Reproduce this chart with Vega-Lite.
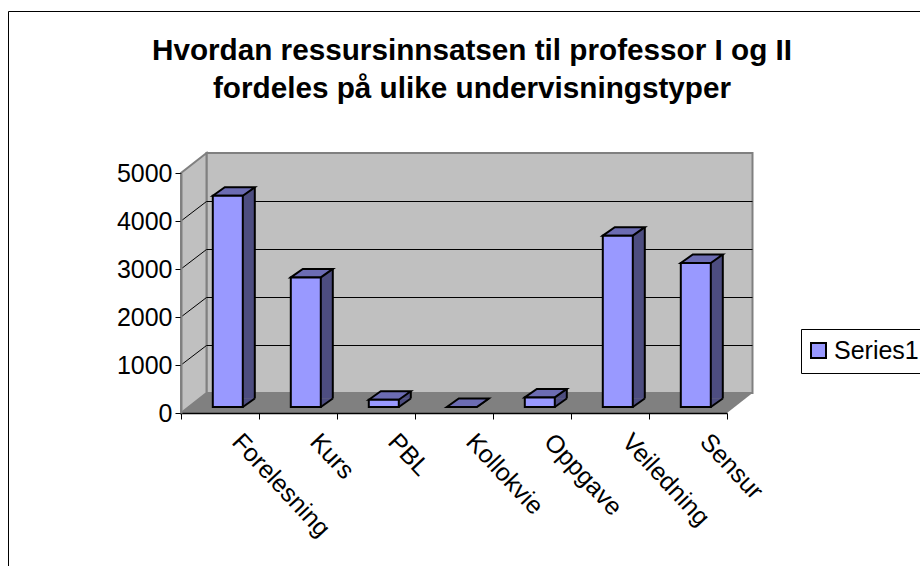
{
"$schema":"https://vega.github.io/schema/vega-lite/v6.json",
"width":912,"height":555,
"autosize":{"type":"none"},
"padding":{"left":8,"top":11,"right":0,"bottom":0},
"background":"white",
"view":{"stroke":"black","strokeWidth":1,"fill":"white"},
"title":{"text":["Hvordan ressursinnsatsen til professor I og II","fordeles på ulike undervisningstyper"],"anchor":"middle","frame":"group","dx":8,"offset":-94,"font":"Liberation Sans","fontWeight":"bold","fontSize":29.7,"lineHeight":38,"color":"black"},
"data":{"values":[
{"type":"Forelesning","value":4400},
{"type":"Kurs","value":2700},
{"type":"PBL","value":150},
{"type":"Kollokvie","value":0},
{"type":"Oppgave","value":200},
{"type":"Veiledning","value":3570},
{"type":"Sensur","value":3000}
]},
"encoding":{
"x":{"field":"type","type":"nominal","sort":null,"title":null,
"scale":{"domain":["Forelesning","Kurs","PBL","Kollokvie","Oppgave","Veiledning","Sensur"],"range":[173,719],"paddingInner":0,"paddingOuter":0},
"axis":{"orient":"bottom","offset":-153,"tickBand":"extent","labelAngle":47,"labelAlign":"left","labelBaseline":"middle","labelOffset":16,"labelPadding":18,"labelFontSize":25,"labelFont":"Liberation Sans","labelColor":"black","labelBound":false,"labelOverlap":false,"labelFlush":false,"tickSize":6,"tickColor":"black","domainColor":"black","domainWidth":1.5,"tickWidth":1,"grid":false,"zindex":1}},
"y":{"field":"value","type":"quantitative","title":null,
"scale":{"domain":[0,5000],"range":[402,162],"nice":false},
"axis":{"orient":"left","offset":-173,"values":[0,1000,2000,3000,4000,5000],"format":"d","labelFontSize":25,"labelFont":"Liberation Sans","labelColor":"black","labelPadding":3,"tickSize":6,"tickColor":"black","tickWidth":1,"domainColor":"#808080","domainWidth":2,"grid":false,"labelBound":false,"labelFlush":false,"zindex":1}}
},
"layer":[
{"data":{"values":[{"anchor":"Forelesning","base":0}]},"mark":{"type":"point","size":4,"opacity":1,"filled":true,"fill":"#c0c0c0","stroke":"#808080","strokeWidth":2,"shape":"M-13.5 -20 L532.5 -20 L532.5 -260 L-13.5 -260 Z"},"encoding":{"x":{"field":"anchor","type":"nominal"},"y":{"field":"base","type":"quantitative"}}},
{"data":{"values":[{"anchor":"Forelesning","base":0}]},"mark":{"type":"point","size":4,"opacity":1,"filled":true,"fill":"#c0c0c0","stroke":"#808080","strokeWidth":2,"shape":"M-39 0 L-13.5 -20 L-13.5 -260 L-39 -240 Z"},"encoding":{"x":{"field":"anchor","type":"nominal"},"y":{"field":"base","type":"quantitative"}}},
{"data":{"values":[{"anchor":"Forelesning","base":0}]},"mark":{"type":"point","size":4,"opacity":1,"filled":true,"fill":"#808080","strokeWidth":0,"shape":"M-39 0 L507 0 L532.5 -20 L-13.5 -20 Z"},"encoding":{"x":{"field":"anchor","type":"nominal"},"y":{"field":"base","type":"quantitative"}}},
{"data":{"values":[{"anchor":"Forelesning","grid":1000},{"anchor":"Forelesning","grid":2000},{"anchor":"Forelesning","grid":3000},{"anchor":"Forelesning","grid":4000}]},"mark":{"type":"point","size":4,"opacity":1,"filled":false,"stroke":"black","strokeWidth":1,"shape":"M-39 0 L-13.5 -19.5 L532.5 -19.5"},"encoding":{"x":{"field":"anchor","type":"nominal"},"y":{"field":"grid","type":"quantitative"}}},
{"mark":{"type":"bar","width":30,"xOffset":19.8,"yOffset":-14.5,"y2Offset":-14.5,"fill":"#4d4d80"},"encoding":{"y":{"field":"value","type":"quantitative"},"y2":{"datum":0}}},
{"mark":{"type":"point","size":4,"opacity":1,"filled":true,"fill":"#4d4d80","strokeWidth":0,"shape":"M22.8 -6 L34.8 -14.5 L22.8 -14.5 Z"},"encoding":{"y":{"datum":0}}},
{"mark":{"type":"rule","xOffset":34.8,"yOffset":-14.5,"y2Offset":-14.5,"stroke":"black","strokeWidth":2},"encoding":{"y":{"field":"value","type":"quantitative"},"y2":{"datum":0}}},
{"mark":{"type":"point","size":4,"opacity":1,"filled":false,"stroke":"black","strokeWidth":2,"shape":"M22.8 -6 L34.8 -14.5"},"encoding":{"y":{"datum":0}}},
{"mark":{"type":"point","size":4,"opacity":1,"filled":true,"fill":"#6c6cb3","stroke":"black","strokeWidth":2,"shape":"M-7.2 -6 L4.8 -14.5 L34.8 -14.5 L22.8 -6 Z"}},
{"mark":{"type":"bar","width":30,"xOffset":7.8,"yOffset":-6,"y2Offset":-6,"stroke":"black","strokeWidth":2},
"encoding":{"y":{"field":"value","type":"quantitative"},"y2":{"datum":0},
"color":{"datum":"Series1","scale":{"domain":["Series1"],"range":["#9999ff"]},
"legend":{"title":null,"orient":"none","legendX":793,"legendY":318,"padding":9,"strokeColor":"black","fillColor":"white","symbolType":"square","symbolSize":225,"symbolOffset":-4,"symbolStrokeColor":"black","symbolStrokeWidth":2,"symbolOpacity":1,"labelFont":"Liberation Sans","labelFontSize":25,"labelColor":"black","labelOffset":3}}}}
]
}
